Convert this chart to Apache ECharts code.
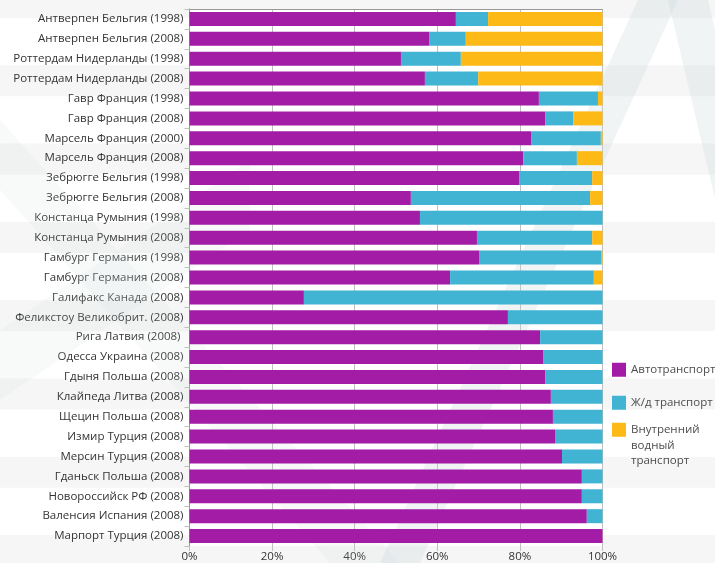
<!DOCTYPE html>
<html>
<head>
<meta charset="utf-8">
<script src="https://cdn.jsdelivr.net/npm/echarts@6/dist/echarts.min.js"></script>
<style>
  html, body { margin: 0; padding: 0; background: #fff; }
  #chart { width: 715px; height: 563px; }
</style>
</head>
<body>
<div id="chart"></div>
<script>
// порты
var ports = [
    'Антверпен Бельгия (1998)', 'Антверпен Бельгия (2008)',
    'Роттердам Нидерланды (1998)', 'Роттердам Нидерланды (2008)',
    'Гавр Франция (1998)', 'Гавр Франция (2008)',
    'Марсель Франция (2000)', 'Марсель Франция (2008)',
    'Зебрюгге Бельгия (1998)', 'Зебрюгге Бельгия (2008)',
    'Констанца Румыния (1998)', 'Констанца Румыния (2008)',
    'Гамбург Германия (1998)', 'Гамбург Германия (2008)',
    'Галифакс Канада (2008)', 'Феликстоу Великобрит. (2008)',
    'Рига Латвия (2008) ', 'Одесса Украина (2008)',
    'Гдыня Польша (2008)', 'Клайпеда Литва (2008)',
    'Щецин Польша (2008)', 'Измир Турция (2008)',
    'Мерсин Турция (2008)', 'Гданьск Польша (2008)',
    'Новороссийск РФ (2008)', 'Валенсия Испания (2008)',
    'Марпорт Турция (2008)'
];

// доли, %
var auto  = [64.5, 58.0, 51.2, 57.0, 84.6, 86.1, 82.7, 80.8, 79.8, 53.6, 55.8, 69.6, 70.1, 63.1, 27.7, 77.1, 84.9, 85.6, 86.1, 87.5, 88.0, 88.5, 90.2, 95.0, 95.0, 96.2, 100];
var rail  = [7.8, 8.9, 14.5, 12.9, 14.3, 6.8, 16.9, 13.0, 17.7, 43.4, 44.2, 27.9, 29.7, 34.8, 72.3, 22.9, 15.1, 14.4, 13.9, 12.5, 12.0, 11.5, 9.8, 5.0, 5.0, 3.8, 0];
var water = [27.7, 33.1, 34.3, 30.1, 1.1, 7.1, 0.4, 6.2, 2.5, 3.0, 0, 2.5, 0.2, 2.1, 0, 0, 0, 0, 0, 0, 0, 0, 0, 0, 0, 0, 0];

var xTicks = [0, 20, 40, 60, 80, 100];

var names = ['Автотранспорт', 'Ж/д транспорт', 'Внутренний водный транспорт'];
var colors = ['#a21ca6', '#40b4d2', '#fdb915'];

var chart = echarts.init(document.getElementById('chart'));

// фоновые полосы
var bands = [];
for (var y = -13; y < 563; y += 78.3) {
    bands.push({
        type: 'rect', z: -10, silent: true,
        shape: { x: 0, y: y, width: 715, height: 31 },
        style: { fill: '#f6f6f6' }
    });
}
// водяной знак
var wm = 'rgba(200,214,218,0.28)';
var marks = [
    { type: 'polygon', z: 1, silent: true, shape: { points: [[638, 0], [678, 0], [420, 563], [380, 563]] }, style: { fill: wm } },
    { type: 'polygon', z: 1, silent: true, shape: { points: [[668, 0], [708, 0], [760, 220], [720, 220]] }, style: { fill: wm } },
    { type: 'polygon', z: 1, silent: true, shape: { points: [[0, 120], [0, 190], [330, 563], [400, 563]] }, style: { fill: 'rgba(200,214,218,0.13)' } },
    { type: 'polygon', z: 1, silent: true, shape: { points: [[0, 330], [0, 400], [250, 230], [250, 160]] }, style: { fill: 'rgba(200,214,218,0.13)' } }
];

function legendAt(top, i) {
    return {
        data: [names[i]],
        orient: 'vertical',
        left: 612,
        top: top,
        padding: 0,
        itemWidth: 14,
        itemHeight: 14,
        itemGap: 0,
        icon: 'rect',
        selectedMode: false,
        formatter: function (n) {
            // многострочная подпись: первая строка на уровне значка
            return n === names[2] ? '\n\nВнутренний\nводный\nтранспорт' : n;
        },
        textStyle: {
            fontFamily: 'Open Sans', fontSize: 11.5, color: '#4d4d4d',
            lineHeight: 15.5
        }
    };
}

option = {
    backgroundColor: '#ffffff',
    animation: false,
    graphic: bands.concat(marks),
    legend: [
        legendAt(362, 0),
        legendAt(395, 1),
        legendAt(391, 2)
    ],
    grid: {
        left: 189.5,
        right: 112.5,
        top: 9,
        bottom: 17,
        show: true,
        backgroundColor: '#ffffff',
        borderWidth: 0
    },
    xAxis: [{
        type: 'value',
        min: 0,
        max: 100,
        interval: 20,
        axisLine: { show: false },
        axisTick: { show: true, length: 5, lineStyle: { color: '#bfbfbf' } },
        axisLabel: {
            formatter: function (v) { return xTicks.indexOf(v) >= 0 ? v + '%' : ''; },
            fontFamily: 'Open Sans', fontSize: 11.5, color: '#333333', margin: 5
        },
        splitLine: { show: true, lineStyle: { color: '#bfbfbf' } }
    }, {
        type: 'value',
        position: 'top',
        min: 0,
        max: 100,
        axisLine: { show: true, lineStyle: { color: '#999999' } },
        axisTick: { show: false },
        axisLabel: { show: false },
        splitLine: { show: false }
    }],
    yAxis: [{
        type: 'category',
        inverse: true,
        data: ports,
        axisLine: { show: true, lineStyle: { color: '#bfbfbf' } },
        axisTick: { show: true, length: 5, lineStyle: { color: '#bfbfbf' } },
        axisLabel: { fontFamily: 'Open Sans', fontSize: 11.5, color: '#333333', margin: 6 }
    }, {
        type: 'category',
        position: 'right',
        inverse: true,
        data: ports,
        axisLine: { show: true, lineStyle: { color: '#999999' } },
        axisTick: { show: false },
        axisLabel: { show: false }
    }],
    series: [
        { name: names[0], type: 'bar', stack: 'all', data: auto,  barWidth: 14, itemStyle: { color: colors[0] } },
        { name: names[1], type: 'bar', stack: 'all', data: rail,  barWidth: 14, itemStyle: { color: colors[1] } },
        { name: names[2], type: 'bar', stack: 'all', data: water, barWidth: 14, itemStyle: { color: colors[2] } }
    ]
};

chart.setOption(option);
</script>
</body>
</html>
